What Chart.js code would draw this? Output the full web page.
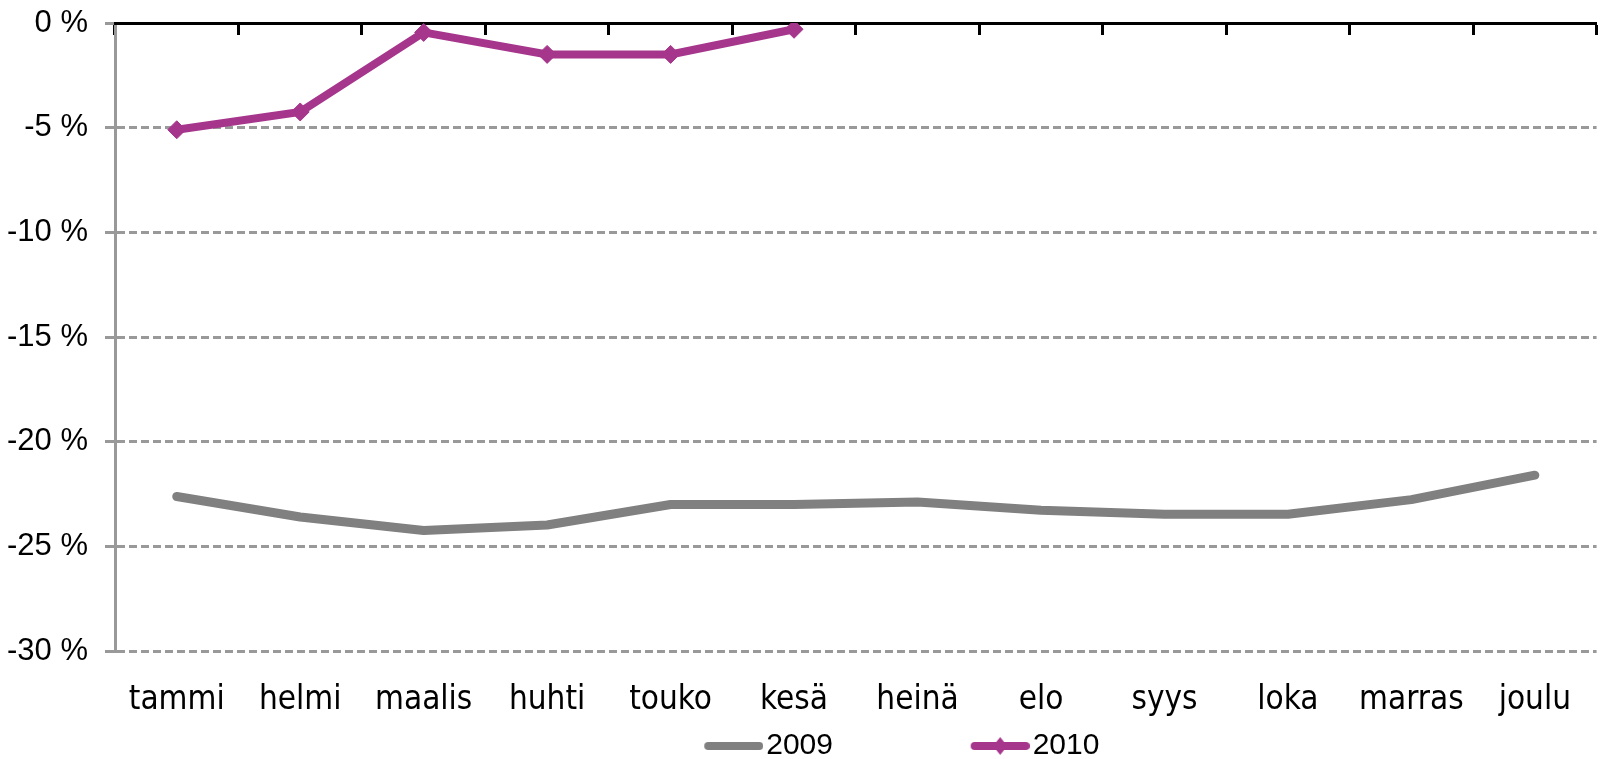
<!DOCTYPE html>
<html>
<head>
<meta charset="utf-8">
<script src="https://cdn.jsdelivr.net/npm/chart.js@4"></script>
<style>
  html, body { margin: 0; padding: 0; background: #fff; }
  #wrap { width: 1601px; height: 759px; position: relative; }
</style>
</head>
<body>
<div id="wrap"><canvas id="chart"></canvas></div>
<script>
// months along the x axis
const months = ['tammi', 'helmi', 'maalis', 'huhti', 'touko', 'kesä', 'heinä', 'elo', 'syys', 'loka', 'marras', 'joulu'];
// change in percent
const values2009 = [-22.62, -23.6, -24.24, -23.98, -23.0, -23.0, -22.88, -23.28, -23.47, -23.47, -22.77, -21.6];
const values2010 = [-5.1, -4.25, -0.45, -1.5, -1.5, -0.3, null, null, null, null, null, null];
const seriesNames = ['2009', '2010'];
const yMin = -30, yMax = 0, yStep = 5;

const gray = '#808080';
const purple = '#A6368C';

// little line swatch for the legend, line sits at the right end of the image
function swatch(color, width, diamond) {
  const c = document.createElement('canvas');
  c.width = 163; c.height = 24;
  const g = c.getContext('2d');
  g.strokeStyle = color;
  g.lineWidth = width;
  g.lineCap = 'round';
  g.beginPath();
  g.moveTo(104 + width / 2, 12);
  g.lineTo(163 - width / 2, 12);
  g.stroke();
  if (diamond) {
    const cx = 133.5;
    g.fillStyle = color;
    g.beginPath();
    g.moveTo(cx, 3); g.lineTo(cx + 7, 12); g.lineTo(cx, 21); g.lineTo(cx - 7, 12);
    g.closePath();
    g.fill();
  }
  return c;
}
const swatches = [swatch(gray, 8, false), swatch(purple, 8, true)];
const legendTexts = [seriesNames[0] + '     ', seriesNames[1]];

new Chart(document.getElementById('chart'), {
  type: 'line',
  data: {
    labels: months,
    datasets: [{
      label: seriesNames[0],
      data: values2009,
      borderColor: gray,
      backgroundColor: gray,
      borderWidth: 9,
      borderCapStyle: 'round',
      borderJoinStyle: 'round',
      pointRadius: 0,
      tension: 0
    }, {
      label: seriesNames[1],
      data: values2010,
      borderColor: purple,
      backgroundColor: purple,
      borderWidth: 8,
      pointStyle: 'rectRot',
      pointRadius: 9,
      pointBorderWidth: 1,
      pointBackgroundColor: purple,
      pointBorderColor: purple,
      tension: 0
    }]
  },
  options: {
    responsive: true,
    maintainAspectRatio: false,
    animation: false,
    layout: { autoPadding: false, padding: { top: 23, right: 0, left: 0, bottom: -12 } },
    plugins: {
      tooltip: { enabled: false },
      legend: {
        position: 'bottom',
        fullSize: false,
        labels: {
          usePointStyle: true,
          pointStyleWidth: 139,
          padding: 4,
          color: '#000',
          font: { family: '"Liberation Sans", Arial, sans-serif', size: 30 },
          generateLabels: (chart) => chart.data.datasets.map((ds, i) => ({
            text: legendTexts[i],
            pointStyle: swatches[i],
            fillStyle: ds.borderColor,
            strokeStyle: ds.borderColor,
            lineWidth: 0,
            hidden: false,
            datasetIndex: i,
            fontColor: '#000'
          }))
        }
      }
    },
    scales: {
      y: {
        min: yMin,
        max: yMax,
        ticks: {
          stepSize: yStep,
          padding: 17,
          color: '#000',
          font: { family: '"Liberation Sans Narrow", "Liberation Sans", sans-serif', size: 31 },
          callback: (v) => v + ' %'
        },
        grid: {
          color: (ctx) => (ctx.tick && ctx.tick.value === 0 ? 'rgba(0,0,0,0)' : '#999'),
          lineWidth: 3,
          tickLength: 10,
          tickColor: '#999',
          tickWidth: 3
        },
        border: { color: '#999', width: 3, dash: [8, 4] },
        afterFit: (s) => { s.width = 115; s.paddingTop = 0; s.paddingBottom = 0; }
      },
      x: {
        offset: true,
        grid: { display: false, drawTicks: false, offset: true },
        border: { display: false },
        ticks: {
          padding: 30,
          color: '#000',
          maxRotation: 0,
          autoSkip: false,
          font: { family: '"DejaVu Sans Condensed", "DejaVu Sans", sans-serif', size: 33 }
        },
        afterFit: (s) => { s.height = 76; }
      },
      x2: {
        type: 'category',
        position: { y: 0 },
        offset: true,
        grid: {
          offset: true,
          drawOnChartArea: false,
          drawTicks: true,
          tickLength: 10,
          tickWidth: 3,
          color: '#000',
          tickColor: '#000'
        },
        border: { color: '#000', width: 3 },
        ticks: { display: false }
      }
    }
  }
});
</script>
</body>
</html>
